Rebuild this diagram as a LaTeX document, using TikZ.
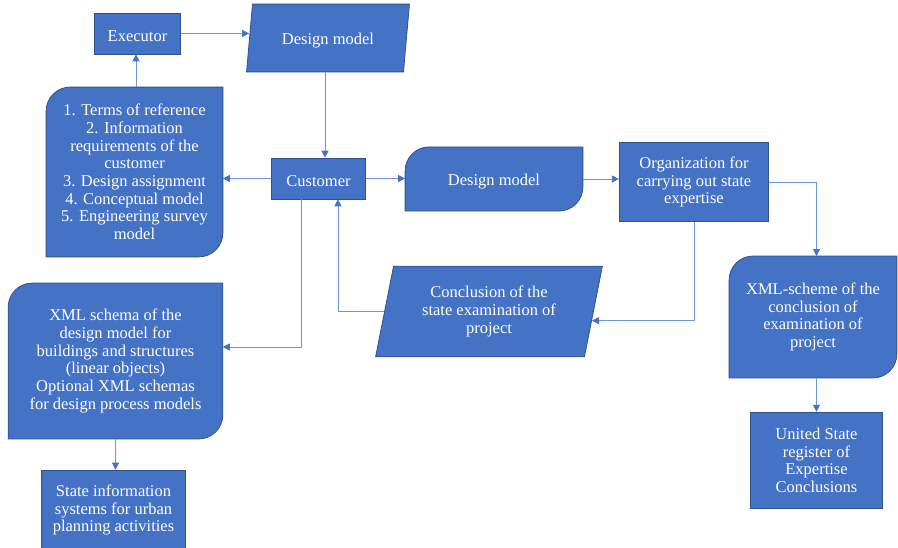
\documentclass[tikz,border=0pt]{standalone}
\usepackage{fontspec}
\setmainfont{Liberation Serif}
\usetikzlibrary{shapes.geometric,arrows.meta,backgrounds,calc}
\definecolor{boxblue}{HTML}{4472C4}
\definecolor{edgeblue}{HTML}{2F528F}
\definecolor{lineblue}{HTML}{6F95D8}
\tikzstyle{label text}=[text=white, align=center, inner sep=0pt, font=\fontsize{16.5bp}{17.7bp}\selectfont,
  execute at begin node={\rule{0pt}{17bp}}]
\tikzstyle{box}=[label text, draw=edgeblue, fill=boxblue, line width=0.8bp]
\tikzstyle{softbox}=[label text]
\tikzstyle{slantbox}=[box, trapezium, trapezium stretches=true]
\tikzstyle{link}=[draw=lineblue, line width=0.8bp, -{Triangle[length=7bp,width=7bp,color=boxblue]}]
% box with rounded top left and bottom right corners
\newcommand{\softcorners}[1]{%
\filldraw[draw=edgeblue, fill=boxblue, line width=0.8bp]
  (#1.south west) -- ([yshift=-24bp]#1.north west)
  arc[start angle=180, end angle=90, radius=24bp] -- (#1.north east)
  -- ([yshift=24bp]#1.south east)
  arc[start angle=0, end angle=-90, radius=24bp] -- cycle;}
\begin{document}
\begin{tikzpicture}[x=1bp,y=1bp]
\useasboundingbox (0,0) rectangle (898,548);
\node [box, minimum width=87, minimum height=41] (exec) at (137.5,514.5) {Executor};
\node [slantbox, trapezium left angle=80, trapezium right angle=100, minimum width=164, minimum height=68] (dm1) at (328,510) {Design model};
\node [softbox, minimum width=177, minimum height=170] (req) at (134.5,376) {1. Terms of reference\\2. Information\\requirements of the\\customer\\3. Design assignment\\4. Conceptual model\\5. Engineering survey\\model};
\node [box, minimum width=95, minimum height=41] (cust) at (318.5,369.5) {Customer};
\node [softbox, minimum width=178, minimum height=64] (dm2) at (494,369) {Design model};
\node [box, minimum width=150, minimum height=80] (org) at (694,366) {Organization for\\carrying out state\\expertise};
\node [softbox, minimum width=168, minimum height=122] (xmlc) at (813,231) {XML-scheme of the\\conclusion of\\examination of\\project};
\node [box, minimum width=133, minimum height=97] (usr) at (816.5,87.5) {United State\\register  of\\Expertise\\Conclusions};
\node [slantbox, trapezium left angle=76, trapezium right angle=104, minimum width=228, minimum height=91] (concl) at (489,236.5) {Conclusion of the\\state examination  of\\project};
\node [softbox, minimum width=215, minimum height=156] (xmls) at (115.5,187) {XML schema of the\\design model for\\buildings and structures\\(linear objects)\\Optional XML schemas\\for design process models};
\node [box, minimum width=145, minimum height=80] (sis) at (113.5,38) {State information\\systems for urban\\planning activities};
\begin{scope}[on background layer]
\softcorners{req}
\softcorners{dm2}
\softcorners{xmlc}
\softcorners{xmls}
\end{scope}
\draw [link] (req.north -| 136,0) -- (exec.south -| 136,0);
\draw [link] (exec.east) -- (exec.east -| dm1.west);
\draw [link] (dm1.bottom side) -- (dm1.bottom side |- cust.north);
\draw [link] (cust.west) -- (cust.west -| req.east);
\draw [link] (cust.east) -- (cust.east -| dm2.west);
\draw [link] (dm2.east) -- (dm2.east -| org.west);
\draw [link] (org.east) -| (usr.north |- xmlc.north);
\draw [link] (usr.north |- xmlc.south) -- (usr.north);
\draw [link] (org.south) |- ($(concl.right side)!0.2!(concl.bottom right corner)$);
\draw [link] (concl.left side) -| ($(cust.south)+(19.5,0)$);
\draw [link] ($(cust.south)+(-17.5,0)$) |- ($(xmls.east)+(0,14)$);
\draw [link] (xmls.south) -- (xmls.south |- sis.north);
\end{tikzpicture}
\end{document}
